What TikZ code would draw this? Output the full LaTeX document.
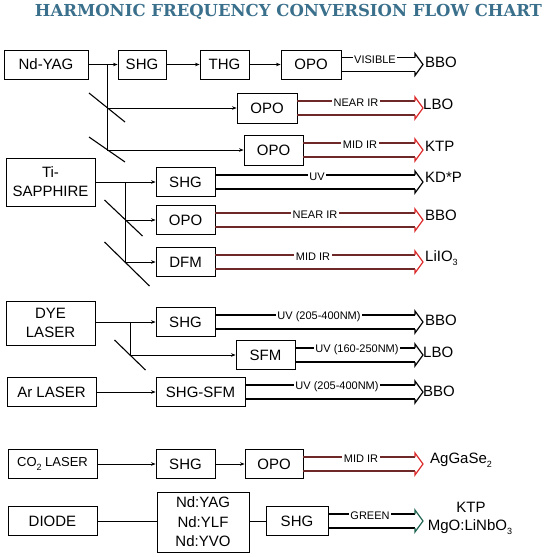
\documentclass[tikz,border=0pt]{standalone}
\usepackage{graphicx}
\usepackage{fontspec}
\setmainfont{Liberation Sans}
\newfontfamily\titlefont{DejaVu Serif}
\usetikzlibrary{arrows.meta,calc}
\definecolor{titleblue}{RGB}{58,112,140}
\definecolor{irline}{RGB}{110,40,40}
\definecolor{irhead}{RGB}{220,40,40}
\definecolor{grhead}{RGB}{30,100,80}
\newcommand\lowsub[1]{\raisebox{-0.28em}{\fontsize{9}{9}\selectfont #1}}
\tikzset{
 box/.style={draw, line width=0.9pt, minimum height=29pt, inner sep=0pt, align=center, font=\fontsize{15}{19}\selectfont},
 conn/.style={line width=0.9pt, -{Stealth[length=4.5pt,width=3.5pt]}},
 plainline/.style={line width=0.9pt},
 mirror/.style={line width=1.1pt},
 lbl/.style={fill=white, inner sep=1.5pt, font=\fontsize{11}{11}\selectfont},
 crys/.style={anchor=west, inner sep=0pt, font=\fontsize{15}{18}\selectfont},
}
% #1 from node, #2 prefix, #3 label, #4 label x, #5 line colour, #6 head colour
\newcommand{\hollow}[6]{%
 \coordinate (#2t0) at ($(#1.east)+(0,-7)$);
 \coordinate (#2b0) at ($(#1.east)+(0,7)$);
 \coordinate (#2t1) at (#2t0 -| hx);
 \coordinate (#2b1) at (#2b0 -| hx);
 \coordinate (#2tip) at (#1.east -| tipx);
 \coordinate (#2lx) at (#4,0);
 \draw[#5, line width=1.2pt] (#2t0) -- (#2t1);
 \draw[#5, line width=1.2pt] (#2b0) -- (#2b1);
 \draw[#6, line width=1.2pt, line join=miter] (#2t1) -- ++(0,-4) -- (#2tip) -- ($(#2b1)+(0,4)$) -- (#2b1);
 \node[lbl, yshift=-2pt] (#2lbl) at (#2t0 -| #2lx) {#3};
}
\begin{document}
\begin{tikzpicture}[x=1pt,y=-1pt]
\path[use as bounding box, fill=white] (0,0) rectangle (558,557);
\coordinate (hx) at (415,0);
\coordinate (tipx) at (423,0);

\node[text=titleblue, inner sep=0pt] (title) at (288.5,12) {\resizebox{507pt}{!}{\titlefont\bfseries HARMONIC FREQUENCY CONVERSION FLOW CHART}};

% Nd-YAG group
\node[box, minimum width=84pt] (nd) at (46,64.5) {Nd-YAG};
\node[box, minimum width=48pt] (shg1) at (142,64.5) {SHG};
\node[box, minimum width=49pt] (thg) at (224.5,64.5) {THG};
\node[box, minimum width=60pt] (opo1) at (311,64.5) {OPO};
\node[box, minimum width=60pt, minimum height=30pt] (opo2) at (267,108) {OPO};
\node[box, minimum width=59pt, minimum height=30pt] (opo3) at (273.5,150) {OPO};
\draw[conn] (nd) -- (shg1);
\draw[conn] (shg1) -- (thg);
\draw[conn] (thg) -- (opo1);
\coordinate (j1) at (107.5,64.5);
\draw[conn] (j1) |- (opo2);
\draw[conn] (j1) |- (opo3);
\coordinate (m1) at (j1 |- opo2);
\coordinate (m2) at (j1 |- opo3);
\draw[mirror] ($(m1)+(-18.5,-15)$) -- ($(m1)+(17.5,14)$);
\draw[mirror] ($(m2)+(-18.5,-13)$) -- ($(m2)+(17.5,12)$);
\hollow{opo1}{a1}{VISIBLE}{375}{black}{black}
\hollow{opo2}{a2}{NEAR IR}{356}{irline}{irhead}
\hollow{opo3}{a3}{MID IR}{360}{irline}{irhead}
\node[crys] (x1) at (425,62) {BBO};
\node[crys] (x2) at (423,104) {LBO};
\node[crys] (x3) at (425,146) {KTP};

% Ti-sapphire group
\node[box, minimum width=89pt, minimum height=48pt] (ti) at (50.5,182) {Ti-\\SAPPHIRE};
\node[box, minimum width=59pt] (shg2) at (185.5,182) {SHG};
\node[box, minimum width=59pt] (opo4) at (185.5,220) {OPO};
\node[box, minimum width=59pt] (dfm) at (185.5,262) {DFM};
\draw[conn] (ti) -- (shg2);
\coordinate (j2) at (125.5,182);
\draw[conn] (j2) |- (opo4);
\draw[conn] (j2) |- (dfm);
\coordinate (m3) at (j2 |- opo4);
\coordinate (m4) at (j2 |- dfm);
\draw[mirror] ($(m3)+(-21,-20)$) -- ($(m3)+(17,16)$);
\draw[mirror] ($(m4)+(-21,-20)$) -- ($(m4)+(24,24)$);
\hollow{shg2}{a4}{UV}{317}{black}{black}
\hollow{opo4}{a5}{NEAR IR}{315}{irline}{irhead}
\hollow{dfm}{a6}{MID IR}{313}{irline}{irhead}
\node[crys] (x4) at (425,177) {KD*P};
\node[crys] (x5) at (425,215) {BBO};
\node[crys] (x6) at (425,258) {LiIO\lowsub{3}};

% Dye laser group
\node[box, minimum width=89pt, minimum height=44pt] (dye) at (50.5,323) {DYE\\LASER};
\node[box, minimum width=59pt] (shg3) at (185.5,322) {SHG};
\node[box, minimum width=59pt] (sfm) at (265.5,355) {SFM};
\draw[conn] (dye.east |- shg3) -- (shg3);
\coordinate (j3) at (130.5,322);
\draw[conn] (j3) |- (sfm);
\coordinate (m5) at (j3 |- sfm);
\draw[mirror] ($(m5)+(-16,-15)$) -- ($(m5)+(15,15)$);
\hollow{shg3}{a7}{UV (205-400NM)}{319}{black}{black}
\hollow{sfm}{a8}{UV (160-250NM)}{357}{black}{black}
\node[crys] (x7) at (425,320) {BBO};
\node[crys] (x8) at (423,352) {LBO};

% Ar laser
\node[box, minimum width=89pt] (ar) at (51.5,392) {Ar LASER};
\node[box, minimum width=89pt] (shgsfm) at (200.5,392) {SHG-SFM};
\draw[conn] (ar) -- (shgsfm);
\hollow{shgsfm}{a9}{UV (205-400NM)}{337}{black}{black}
\node[crys] (x9) at (423,391) {BBO};

% CO2 laser
\node[box, minimum width=89pt, font=\fontsize{13}{16}\selectfont] (co2) at (52.5,464) {CO\lowsub{2} LASER};
\node[box, minimum width=59pt] (shg4) at (185.5,464) {SHG};
\node[box, minimum width=58pt] (opo5) at (274,464) {OPO};
\draw[conn] (co2) -- (shg4);
\draw[conn] (shg4) -- (opo5);
\hollow{opo5}{a10}{MID IR}{361}{irline}{irhead}
\node[crys] (x10) at (430,460) {AgGaSe\lowsub{2}};

% Diode
\node[box, minimum width=89pt] (diode) at (52.5,521) {DIODE};
\node[box, minimum width=92pt, minimum height=60pt, font=\fontsize{15}{19.5}\selectfont] (ndb) at (203,522) {Nd:YAG\\Nd:YLF\\Nd:YVO};
\node[box, minimum width=62pt] (shg5) at (297,521) {SHG};
\draw[plainline] (diode) -- (diode -| ndb.west);
\draw[plainline] (ndb.east |- shg5) -- (shg5);
\hollow{shg5}{a11}{GREEN}{370}{black}{grhead}
\node[crys, anchor=center] (x11) at (471,507) {KTP};
\node[crys, anchor=center] (x12) at (470,527) {MgO:LiNbO\lowsub{3}};
\end{tikzpicture}
\end{document}
